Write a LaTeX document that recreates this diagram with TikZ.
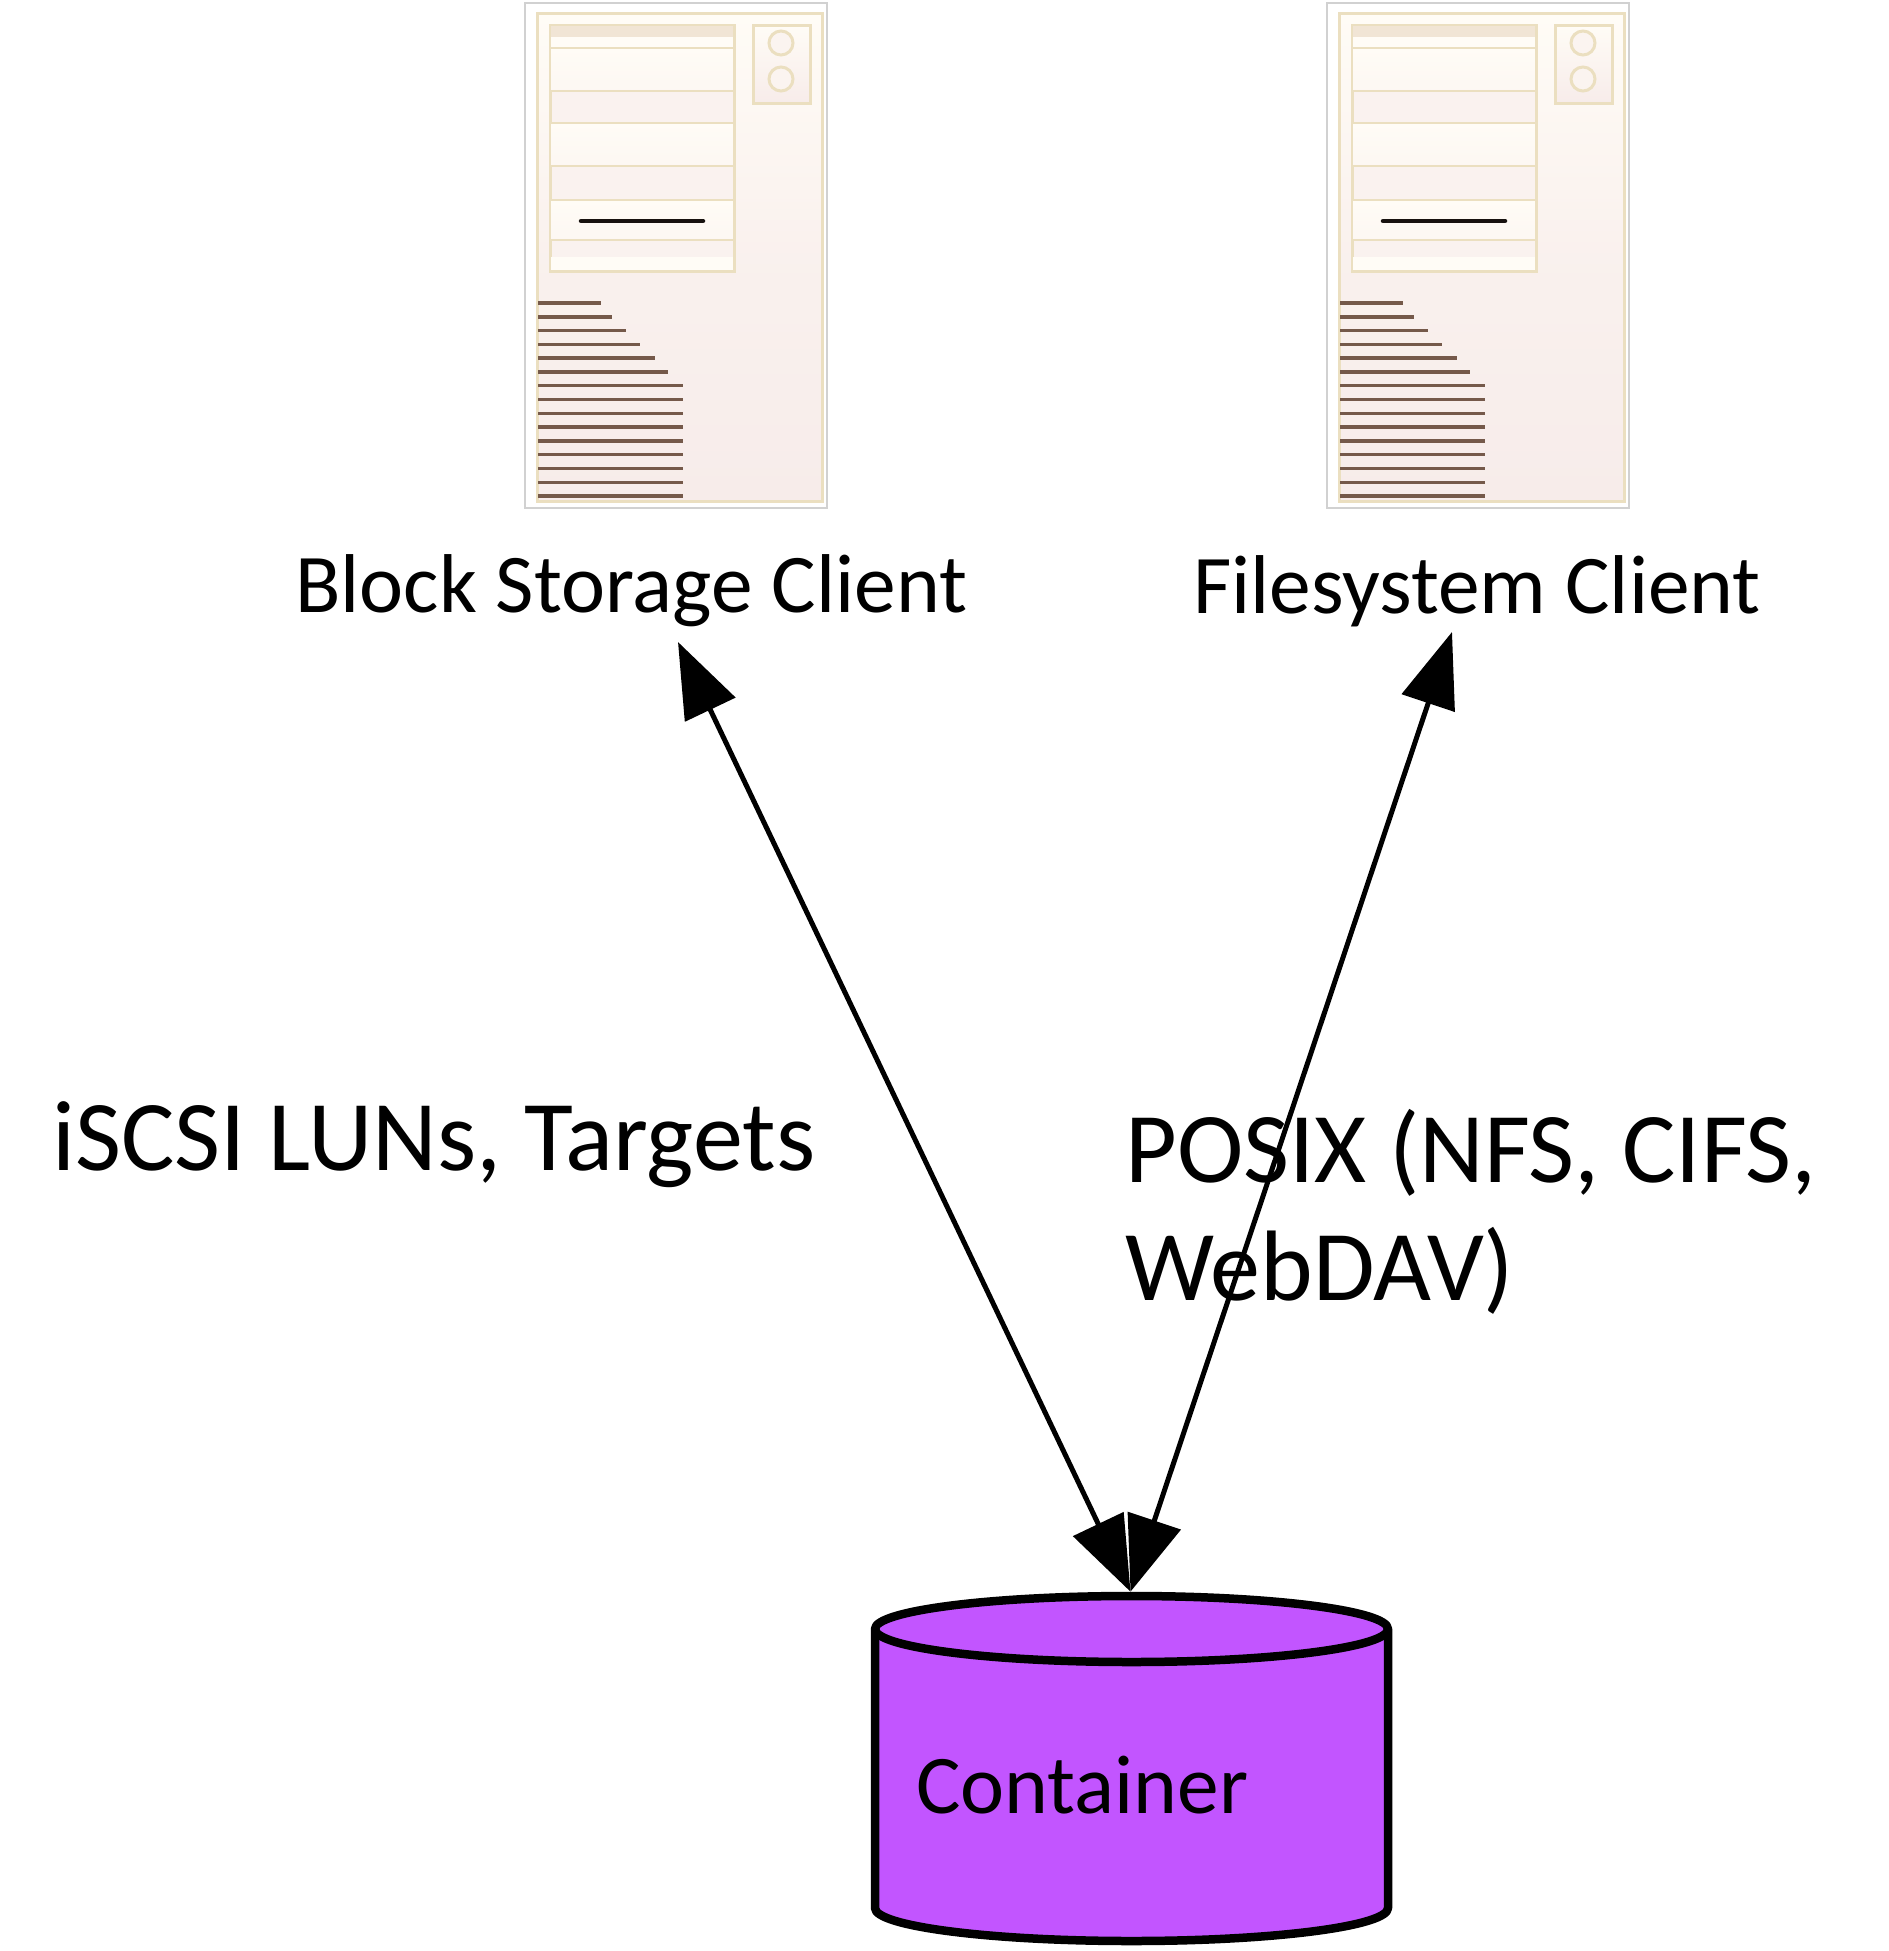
\documentclass[tikz,border=0pt]{standalone}
\usepackage{fontspec}
\setmainfont{Carlito}
\usetikzlibrary{arrows.meta}

\definecolor{trimtan}{HTML}{EBDFC0}
\definecolor{shellpink}{HTML}{F7ECEA}
\definecolor{creamy}{HTML}{FFFCF6}
\definecolor{ventbrown}{HTML}{75594A}
\definecolor{tankpurple}{HTML}{C255FF}

\begin{document}
\begin{tikzpicture}[
    x=0.02cm, y=-0.02cm,
    caption/.style={font=\fontsize{47.5}{57}\selectfont, anchor=west, inner sep=0pt},
    biglabel/.style={font=\fontsize{57}{67}\selectfont, anchor=west, inner sep=0pt, align=left},
    arrow/.style={{Triangle[length=1.5cm,width=1.1cm]}-{Triangle[length=1.5cm,width=1.1cm]}, line width=0.1cm},
    bay/.style={draw=trimtan, line width=0.05cm, top color=creamy, bottom color=creamy!70!shellpink},
    trim/.style={draw=trimtan, line width=0.06cm},
    tankbox/.style={inner sep=0pt, minimum width=10.38cm, minimum height=7.06cm},
    tankline/.style={draw=black, line width=0.17cm, line join=round, fill=tankpurple},
    serverpic/.pic={
        \draw[draw=black!18, line width=0.025cm, fill=white] (0,0) rectangle (302,505);
        \draw[trim, top color=creamy, bottom color=shellpink, middle color=shellpink!70!creamy] (12,10) rectangle (297,498);
        \draw[trim, fill=shellpink!60!creamy] (25,22) rectangle (209,268);
        \fill[trimtan!50!shellpink] (26,23) rectangle (208,34);
        \fill[creamy] (26,34) rectangle (208,45);
        \draw[bay] (25,45) rectangle (209,88);
        \draw[bay] (25,120) rectangle (209,163);
        \draw[bay] (25,197) rectangle (209,237);
        \fill[creamy] (26,254) rectangle (208,267);
        \draw[line width=0.09cm, line cap=round, draw=black!80!ventbrown] (56,218) -- (178,218);
        \draw[trim, top color=creamy, bottom color=shellpink] (228,22) rectangle (285,100);
        \draw[trim, fill=shellpink!50!creamy] (256,40) circle (12);
        \draw[trim, fill=shellpink!50!creamy] (256,76) circle (12);
        \foreach \rowno/\rowend in {0/76,1/87,2/101,3/115,4/130,5/143,6/158,7/158,8/158,9/158,10/158,11/158,12/158,13/158,14/158}
            \draw[draw=ventbrown, line width=0.07cm] (13,300+13.79*\rowno) -- (\rowend,300+13.79*\rowno);
    }
]
\useasboundingbox (0,0) rectangle (1889,1951);

\pic at (525,3) {serverpic};
\pic at (1327,3) {serverpic};

\node[caption] (blocklabel) at (295,591) {Block Storage Client};
\node[caption] (filelabel) at (1193,591) {Filesystem Client};
\node[biglabel] (lunlabel) at (52,1145) {iSCSI LUNs, Targets};
\node[biglabel] (posixlabel) at (1125,1212) {POSIX (NFS, CIFS,\\WebDAV)};

\node[tankbox] (tank) at (1130.5,1768.5) {};
\draw[tankline] (875,1629) arc[start angle=180, end angle=360, x radius=256.5, y radius=33]
    -- (1388,1908) arc[start angle=0, end angle=180, x radius=256.5, y radius=33] -- cycle;
\draw[tankline, fill=none] (875,1629) arc[start angle=180, end angle=0, x radius=256.5, y radius=33];
\node[caption] (tanklabel) at (916,1785) {Container};

\coordinate (blockend) at (678,642);
\coordinate (fileend) at (1452,632);

\draw[arrow] (blockend) -- (tank.north);
\draw[arrow] (fileend) -- (tank.north);
\end{tikzpicture}
\end{document}
